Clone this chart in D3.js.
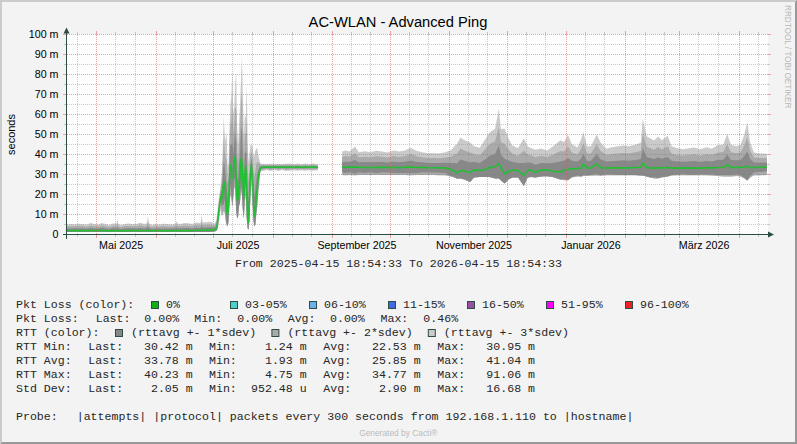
<!DOCTYPE html>
<html><head><meta charset="utf-8">
<script src="https://cdn.jsdelivr.net/npm/d3@7/dist/d3.min.js"></script>
<style>html,body{margin:0;padding:0;background:#F3F3F3;}svg{display:block}</style>
</head><body><svg id="c" width="797" height="444"></svg>
<script>
// ---------------- DATA ----------------
const rangeStart = "2025-04-15T18:54:33";
const rangeEnd = "2026-04-15T18:54:33";

// Spring (low latency ~2 ms)
const springTimes = ["2025-04-15T19:00","2025-04-18T00:00","2025-04-20T00:00","2025-04-22T00:00","2025-04-24T00:00","2025-04-26T00:00","2025-04-28T00:00","2025-04-30T00:00","2025-05-02T00:00","2025-05-04T00:00",
"2025-05-06T00:00","2025-05-08T00:00","2025-05-10T00:00","2025-05-11T12:00","2025-05-12T00:00","2025-05-12T12:00","2025-05-14T00:00","2025-05-16T00:00","2025-05-18T00:00","2025-05-20T00:00",
"2025-05-22T00:00","2025-05-24T00:00","2025-05-26T00:00","2025-05-27T12:00","2025-05-28T00:00","2025-05-28T12:00","2025-05-30T00:00","2025-06-01T00:00","2025-06-03T00:00","2025-06-05T00:00",
"2025-06-07T00:00","2025-06-09T00:00","2025-06-11T12:00","2025-06-12T00:00","2025-06-12T12:00","2025-06-14T00:00","2025-06-16T00:00","2025-06-18T00:00","2025-06-20T00:00","2025-06-22T00:00",
"2025-06-24T12:00","2025-06-25T00:00","2025-06-25T12:00","2025-06-27T00:00","2025-06-29T00:00","2025-06-30T12:00"];
const springAvg = [2.0,1.9,2.1,1.8,2.0,1.9,2.1,1.9,2.0,2.1, 1.9,1.8,2.0,1.9,2.0,1.9,1.8,2.0,1.9,2.1, 1.9,2.0,1.9,2.0,2.2,2.0,1.8,1.9,2.0,1.8, 1.9,2.0,1.9,2.0,1.9,2.0,1.9,2.0,1.9,2.1, 2.1,2.3,2.1,2.2,2.2,2.3];
const springSdev = [1.0,1.1,1.0,1.2,1.1,1.0,1.2,1.1,1.0,1.2, 1.1,1.0,1.2,1.1,1.9,1.1,1.0,1.1,1.2,1.0, 1.1,1.3,1.1,1.2,2.3,1.2,1.0,1.1,1.0,1.2, 1.1,1.0,1.2,1.6,1.2,1.1,1.3,1.2,1.1,1.3, 1.2,2.4,1.3,1.3,1.4,1.3];
const springMin = [1.3,1.3,1.3,1.2,1.3,1.2,1.3,1.2,1.3,1.3, 1.2,1.2,1.2,1.2,1.2,1.2,1.2,1.3,1.2,1.3, 1.2,1.2,1.2,1.2,1.3,1.2,1.2,1.2,1.3,1.2, 1.2,1.2,1.2,1.2,1.2,1.2,1.2,1.2,1.2,1.3, 1.3,1.3,1.3,1.3,1.3,1.4];

// July (unstable period)
const julyTimes = ["2025-07-01T00:00","2025-07-01T12:00","2025-07-02T00:00","2025-07-02T12:00","2025-07-03T00:00","2025-07-03T12:00","2025-07-04T00:00","2025-07-04T12:00","2025-07-05T00:00","2025-07-05T12:00",
"2025-07-06T00:00","2025-07-06T12:00","2025-07-07T00:00","2025-07-07T12:00","2025-07-08T00:00","2025-07-08T12:00","2025-07-09T00:00","2025-07-09T12:00","2025-07-10T00:00","2025-07-10T12:00",
"2025-07-11T00:00","2025-07-11T12:00","2025-07-12T00:00","2025-07-12T12:00","2025-07-13T00:00","2025-07-13T12:00","2025-07-14T00:00","2025-07-14T12:00","2025-07-15T00:00","2025-07-15T12:00",
"2025-07-16T00:00","2025-07-16T12:00","2025-07-17T00:00","2025-07-17T12:00","2025-07-18T00:00","2025-07-18T12:00","2025-07-19T00:00","2025-07-19T12:00","2025-07-20T00:00","2025-07-20T12:00",
"2025-07-21T00:00","2025-07-21T12:00","2025-07-22T00:00","2025-07-22T12:00","2025-07-23T00:00","2025-07-23T12:00","2025-07-24T00:00","2025-07-24T12:00","2025-07-25T00:00","2025-07-25T12:00",
"2025-07-26T00:00"];
const julyAvg = [2.3,2.4,2.6,3.0,4.0,8,12,16,19,18, 22,26,26,20,12,10,14,28,35,33, 28,30,37,39,28,17,18,25,28,38, 36,26,18,30,34,22,9,6,20,30, 35,27,16,9,12,19,23,28,31,33, 33.5];
const julySdev = [1.0,1.0,1.1,1.3,1.7,2.0,2.0,1.7,2.3,4, 7,11,8,9,13,8,7,8,10,12, 18,10,9,12,17.7,12,9,10,12,13, 17.7,14,10,10,8,17.7,12,10,7,5, 3.3,5.7,8,10,10,8,6.7,4,2.3,1.0, 0.6];
const julyMin = [1.5,1.5,1.6,1.8,2.0,3,5,8,10,9, 10,12,11,7,5,4,6,14,20,18, 14,18,24,22,12,8,9,14,16,24, 20,12,8,16,20,8,3,2.5,9,18, 22,14,7,4,5,10,14,20,25,28, 29.8];

// Late summer (flat ~33.7 ms)
const summerTimes = ["2025-07-27T00:00","2025-07-29T00:00","2025-07-31T00:00","2025-08-02T00:00","2025-08-04T00:00","2025-08-06T00:00","2025-08-08T00:00","2025-08-10T00:00","2025-08-12T00:00","2025-08-14T00:00",
"2025-08-16T00:00","2025-08-18T00:00","2025-08-20T00:00","2025-08-22T00:00","2025-08-24T14:00"];
const summerAvg = [33.6,33.7,33.6,33.7,33.6,33.7,33.6,33.7,33.6,33.7, 33.6,33.7,33.6,33.7,33.6];
const summerSdev = [0.6,0.5,0.6,0.5,0.6,0.5,0.6,0.6,0.5,0.6, 0.5,0.6,0.5,0.6,0.5];
const summerMin = [29.7,29.6,29.7,29.6,29.7,29.6,29.7,29.6,29.7,29.6, 29.7,29.6,29.7,29.6,29.7];

// No data between these two instants
const gapTime = "2025-08-30T00:00";

// Autumn / winter / spring 2026
const autumnTimes = ["2025-09-06T06:00","2025-09-08T00:00","2025-09-10T00:00","2025-09-13T00:00","2025-09-15T00:00","2025-09-18T00:00","2025-09-21T00:00","2025-09-24T00:00","2025-09-27T00:00","2025-09-30T00:00",
"2025-10-03T00:00","2025-10-06T00:00","2025-10-09T00:00","2025-10-12T00:00","2025-10-15T00:00","2025-10-18T00:00","2025-10-21T00:00","2025-10-24T00:00","2025-10-27T00:00","2025-10-30T00:00",
"2025-11-02T00:00","2025-11-04T00:00","2025-11-05T00:00","2025-11-07T00:00","2025-11-09T00:00","2025-11-12T00:00","2025-11-14T00:00","2025-11-17T00:00","2025-11-20T00:00","2025-11-22T00:00",
"2025-11-25T00:00","2025-11-27T00:00","2025-11-28T00:00","2025-11-30T00:00","2025-12-02T00:00","2025-12-04T00:00","2025-12-07T00:00","2025-12-10T00:00","2025-12-12T00:00","2025-12-14T00:00",
"2025-12-16T00:00","2025-12-19T00:00","2025-12-22T00:00","2025-12-25T00:00","2025-12-29T00:00","2025-12-31T00:00","2026-01-02T00:00","2026-01-04T00:00","2026-01-07T00:00","2026-01-09T00:00",
"2026-01-10T00:00","2026-01-12T00:00","2026-01-14T00:00","2026-01-17T00:00","2026-01-19T00:00","2026-01-22T00:00","2026-01-25T00:00","2026-01-28T00:00","2026-01-31T00:00","2026-02-03T00:00",
"2026-02-06T00:00","2026-02-09T00:00","2026-02-10T00:00","2026-02-12T00:00","2026-02-14T00:00","2026-02-16T00:00","2026-02-18T00:00","2026-02-20T00:00","2026-02-23T00:00","2026-02-25T00:00",
"2026-02-28T00:00","2026-03-03T00:00","2026-03-06T00:00","2026-03-09T00:00","2026-03-12T00:00","2026-03-15T00:00","2026-03-18T00:00","2026-03-21T00:00","2026-03-24T00:00","2026-03-26T00:00",
"2026-03-28T00:00","2026-03-31T00:00","2026-04-02T00:00","2026-04-04T00:00","2026-04-05T12:00","2026-04-07T00:00","2026-04-09T00:00","2026-04-12T00:00","2026-04-15T18:00"];
const autumnAvg = [33.7,33.6,33.7,33.8,33.6,33.5,33.6,33.5,33.7,33.5, 33.6,33.4,33.6,33.8,33.5,33.6,33.4,33.4,33.3,33.3,
32.5,31.5,30.7,32.0,31.8,31.0,32.4,32.0,32.5,33.5, 34.0,35.4,33.5,30.4,31.5,32.2,32.0,29.5,32.0,32.3,
31.0,32.2,32.4,31.6,31.2,32.3,32.5,32.8,33.0,33.2, 35.2,33.2,33.3,35.3,33.4,33.3,33.4,33.3,33.4,33.3,
33.5,33.6,35.7,33.5,33.3,33.2,33.4,33.3,33.5,33.3, 33.2,33.3,33.2,33.3,33.2,33.4,33.3,33.5,33.6,34.9,
33.5,33.6,33.5,33.8,34.2,33.5,33.5,33.6,33.8];
const autumnSdev = [2.6,2.8,2.6,3.4,2.5,2.7,2.5,2.8,2.6,2.5, 2.8,2.7,2.8,3.2,2.8,2.5,2.4,2.4,2.4,2.6,
3.2,4.3,4.8,5.5,5.1,5.0,3.9,3.8,5.1,5.8, 6.3,9.2,6.4,7.5,5.5,4.1,3.7,6.2,4.0,3.6,
3.8,3.6,3.2,4.1,5.3,4.6,5.8,4.1,3.5,4.9, 5.3,3.6,3.6,4.9,4.2,3.2,3.4,3.6,3.7,3.6,
3.8,4.1,7.4,5.2,4.9,4.6,5.2,4.6,5.3,3.6, 3.3,3.1,3.3,3.4,3.1,3.4,3.2,3.7,3.8,5.1,
3.8,3.5,3.8,5.4,7.3,4.2,2.5,2.3,2.2];
const autumnMin = [29.8,29.6,29.8,29.6,29.8,29.7,29.7,29.7,29.7,29.7, 29.7,29.7,29.7,29.6,29.7,29.7,29.7,29.7,29.6,29.6,
29.0,28.5,28.0,28.0,27.5,26.3,28.5,28.8,28.8,28.8, 28.0,28.0,27.0,25.5,27.5,28.5,28.5,24.3,28.5,28.8,
28.5,29.0,29.0,28.8,27.5,27.1,27.1,28.5,29.0,29.0, 29.3,29.3,29.5,29.5,29.5,29.6,29.6,29.6,29.6,29.6,
29.6,29.5,29.5,29.0,28.5,28.0,28.0,28.5,29.0,29.5, 29.6,29.6,29.6,29.6,29.6,29.6,29.5,29.3,29.0,29.0,
29.0,29.3,29.0,28.0,27.0,28.5,29.6,29.6,29.8];

// Axis tick labels
const yTickValues = [0,10,20,30,40,50,60,70,80,90,100];
const yTickLabels = ["0","10 m","20 m","30 m","40 m","50 m","60 m","70 m","80 m","90 m","100 m"];
const xLabelMonths = ["2025-05-01","2025-07-01","2025-09-01","2025-11-01","2026-01-01","2026-03-01"];
const xLabelTexts = ["Mai 2025","Juli 2025","September 2025","November 2025","Januar 2026","März 2026"];

// Legend content
const lossLabels = ["0%","03-05%","06-10%","11-15%","16-50%","51-95%","96-100%"];
const lossColors = ["#12AF12","#4CCFCB","#6DB1EA","#3E6AE3","#9A4EA2","#FF00FF","#EE2027"];
const bandLabels = ["(rttavg +- 1*sdev)","(rttavg +- 2*sdev)","(rttavg +- 3*sdev)"];
const bandColors = ["#888888","#AAAAAA","#CACACA"];
const pktLossStats = ["0.00%","0.00%","0.00%","0.46%"];
const statNames = ["RTT Min:","RTT Avg:","RTT Max:","Std Dev:"];
const statLast = ["30.42 m","33.78 m","40.23 m","2.05 m"];
const statMin = ["1.24 m","1.93 m","4.75 m","952.48 u"];
const statAvg = ["22.53 m","25.85 m","34.77 m","2.90 m"];
const statMax = ["30.95 m","41.04 m","91.06 m","16.68 m"];

// ---------------- DRAWING ----------------
const W = 797, H = 444;
const X0 = 67, X1 = 767, Y0 = 234.5, Y1 = 34.5;
const AXIS = "#2C4D43";
const SANS = "'Liberation Sans', Arial, sans-serif";
const MONO = "'Liberation Mono', 'Courier New', monospace";
const TXT = "#262626";
const pt = s => new Date((s.length === 10 ? s + "T00:00:00" : (s.length === 16 ? s + ":00" : s)) + "Z");

const x = d3.scaleUtc().domain([pt(rangeStart), pt(rangeEnd)]).range([X0, X1]);
const y = d3.scaleLinear().domain([0, 100]).range([Y0, Y1]);

function build(times, avg, sd, mn) {
  return times.map((t, i) => ({ t: pt(t), avg: avg[i], sd: sd[i], mn: mn[i] }));
}
const data = [].concat(
  build(springTimes, springAvg, springSdev, springMin),
  build(julyTimes, julyAvg, julySdev, julyMin),
  build(summerTimes, summerAvg, summerSdev, summerMin),
  [{ t: pt(gapTime), avg: null, sd: null, mn: null }],
  build(autumnTimes, autumnAvg, autumnSdev, autumnMin)
);

const svg = d3.select("#c");
svg.append("rect").attr("width", W).attr("height", H).attr("fill", "#F3F3F3");
// frame shading
svg.append("polygon").attr("points", `0,0 ${W},0 ${W-2},2 2,2 2,${H-2} 0,${H}`).attr("fill", "#CBCBCB");
svg.append("polygon").attr("points", `2,${H-2} ${W-2},${H-2} ${W-2},2 ${W},0 ${W},${H} 0,${H}`).attr("fill", "#999999");

// canvas
svg.append("rect").attr("x", X0).attr("y", Y1 - 0.5).attr("width", X1 - X0 + 1).attr("height", Y0 - Y1 + 0.5).attr("fill", "#FDFDFD");

// bands
const gPlot = svg.append("g");
[3, 2, 1].forEach(k => {
  const area = d3.area()
    .defined(d => d.avg != null)
    .x(d => x(d.t))
    .y0(d => y(Math.max(d.mn, d.avg - k * d.sd)))
    .y1(d => y(d.avg + k * d.sd));
  gPlot.append("path").datum(data).attr("d", area).attr("fill", bandColors[k - 1]);
});
const line = d3.line().defined(d => d.avg != null).x(d => x(d.t)).y(d => y(d.avg));
gPlot.append("path").datum(data).attr("d", line).attr("fill", "none")
  .attr("stroke", "#22BE33").attr("stroke-width", 1.6).attr("stroke-linejoin", "round");

// grid (on top, like rrdtool)
const gGrid = svg.append("g").attr("shape-rendering", "crispEdges");
const MINOR = "rgba(143,143,143,0.45)", MAJOR = "rgba(222,79,79,0.5)";
const months = d3.utcMonth.range(d3.utcMonth.ceil(x.domain()[0]), x.domain()[1]);
const minorDays = [];
months.forEach(m => { minorDays.push(d3.utcDay.offset(m, 10), d3.utcDay.offset(m, 20)); });
minorDays.push(d3.utcDay.offset(d3.utcMonth.floor(x.domain()[0]), 20));
const vx = d => Math.round(x(d)) + 0.5;
minorDays.filter(d => d > x.domain()[0] && d < x.domain()[1]).forEach(d => {
  const xx = vx(d);
  gGrid.append("line").attr("x1", xx).attr("x2", xx).attr("y1", Y1).attr("y2", Y0)
    .attr("stroke", MINOR).attr("stroke-dasharray", "1,1");
  gGrid.append("line").attr("x1", xx).attr("x2", xx).attr("y1", Y0).attr("y2", Y0 + 2.5).attr("stroke", MINOR);
  gGrid.append("line").attr("x1", xx).attr("x2", xx).attr("y1", Y1 - 2.5).attr("y2", Y1).attr("stroke", MINOR);
});
months.forEach(d => {
  const xx = vx(d);
  gGrid.append("line").attr("x1", xx).attr("x2", xx).attr("y1", Y1).attr("y2", Y0)
    .attr("stroke", MAJOR).attr("stroke-dasharray", "1,1");
  gGrid.append("line").attr("x1", xx).attr("x2", xx).attr("y1", Y0).attr("y2", Y0 + 3.5).attr("stroke", MAJOR);
  gGrid.append("line").attr("x1", xx).attr("x2", xx).attr("y1", Y1 - 3.5).attr("y2", Y1).attr("stroke", MAJOR);
});
for (let v = 5; v < 100; v += 10) {
  const yy = y(v);
  gGrid.append("line").attr("x1", X0).attr("x2", X1 + 1).attr("y1", yy).attr("y2", yy)
    .attr("stroke", MINOR).attr("stroke-dasharray", "1,1");
  gGrid.append("line").attr("x1", X0 - 3).attr("x2", X0).attr("y1", yy).attr("y2", yy).attr("stroke", MINOR);
  gGrid.append("line").attr("x1", X1 + 1).attr("x2", X1 + 3).attr("y1", yy).attr("y2", yy).attr("stroke", MINOR);
}
yTickValues.forEach(v => {
  const yy = y(v);
  if (v > 0) gGrid.append("line").attr("x1", X0).attr("x2", X1 + 1).attr("y1", yy).attr("y2", yy)
    .attr("stroke", MAJOR).attr("stroke-dasharray", "1,1");
  gGrid.append("line").attr("x1", X0 - 4).attr("x2", X0).attr("y1", yy).attr("y2", yy).attr("stroke", MAJOR);
  gGrid.append("line").attr("x1", X1 + 1).attr("x2", X1 + 4).attr("y1", yy).attr("y2", yy).attr("stroke", MAJOR);
});

// axes
const gAxis = svg.append("g");
gAxis.append("line").attr("x1", X0 - 4).attr("x2", X1 + 4).attr("y1", Y0).attr("y2", Y0)
  .attr("stroke", AXIS).attr("shape-rendering", "crispEdges");
gAxis.append("line").attr("x1", X0 - 0.5).attr("x2", X0 - 0.5).attr("y1", Y0 + 4).attr("y2", Y1 - 4)
  .attr("stroke", AXIS).attr("shape-rendering", "crispEdges");
gAxis.append("polygon").attr("points", `${X1 + 1},${Y0 - 3} ${X1 + 1},${Y0 + 3} ${X1 + 7},${Y0}`).attr("fill", AXIS);
gAxis.append("polygon").attr("points", `${X0 - 3.5},${Y1 - 1} ${X0 + 2.5},${Y1 - 1} ${X0 - 0.5},${Y1 - 7}`).attr("fill", AXIS);

// y tick labels
svg.append("g").selectAll("text").data(yTickValues).join("text")
  .attr("x", 58.5).attr("y", v => y(v) + 3.8).attr("text-anchor", "end")
  .attr("font-family", SANS).attr("font-size", 10.7).attr("fill", "#000")
  .text((v, i) => yTickLabels[i]);

// x labels (rrdtool places them half-way into the labelled period)
svg.append("g").selectAll("text").data(xLabelMonths).join("text")
  .attr("x", d => x(d3.utcDay.offset(pt(d), 13)))
  .attr("y", 249).attr("text-anchor", "middle")
  .attr("font-family", SANS).attr("font-size", 10.7).attr("fill", "#000")
  .text((d, i) => xLabelTexts[i]);

// title
svg.append("text").attr("x", 398).attr("y", 27).attr("text-anchor", "middle")
  .attr("font-family", SANS).attr("font-size", 14.7).attr("fill", "#000")
  .text("AC-WLAN - Advanced Ping");

// y axis title
svg.append("text").attr("transform", "translate(15,134.5) rotate(-90)").attr("text-anchor", "middle")
  .attr("font-family", SANS).attr("font-size", 11).attr("fill", "#000").text("seconds");

// watermark
svg.append("text").attr("transform", "translate(784.5,5) rotate(90)")
  .attr("font-family", SANS).attr("font-size", 8.2).attr("fill", "#B8B8B8")
  .text("RRDTOOL / TOBI OETIKER");

// from / to line
svg.append("text").attr("x", 398.5).attr("y", 267).attr("text-anchor", "middle")
  .attr("font-family", MONO).attr("font-size", 11.6).attr("fill", TXT)
  .style("white-space", "pre")
  .text("From 2025-04-15 18:54:33 To 2026-04-15 18:54:33");

// legend
const gLeg = svg.append("g").attr("font-family", MONO).attr("font-size", 11.6).attr("fill", TXT);
const rowY = i => 307.5 + 14 * i;
function t(xp, yp, s, anchor) {
  gLeg.append("text").attr("x", xp).attr("y", yp).attr("text-anchor", anchor || "start")
    .style("white-space", "pre").text(s);
}
function box(xp, yp, color) {
  gLeg.append("rect").attr("x", xp + 0.5).attr("y", yp + 0.5).attr("width", 7).attr("height", 7)
    .attr("fill", color).attr("stroke", AXIS).attr("stroke-width", 1);
}
// row 0: loss colours
t(16, rowY(0), "Pkt Loss (color):");
lossLabels.forEach((l, i) => {
  const bx = 151 + 79 * i;
  box(bx, 301, lossColors[i]);
  t(bx + 15, rowY(0), l);
});
// row 1: pkt loss stats
t(16, rowY(1), "Pkt Loss:");
[[95.7, "Last:"], [194.3, "Min:"], [287.7, "Avg:"], [380.5, "Max:"]].forEach(([xp, s]) => t(xp, rowY(1), s));
[144.3, 237.3, 330, 423.3].forEach((xp, i) => t(xp, rowY(1), pktLossStats[i]));
// row 2: rtt colours
t(16, rowY(2), "RTT (color):");
bandLabels.forEach((l, i) => {
  const bx = 115 + 156.4 * i;
  box(bx, 329, bandColors[i]);
  t(bx + 16, rowY(2), l);
});
// rows 3-6: stats
statNames.forEach((n, i) => {
  const yy = rowY(3 + i);
  t(16, yy, n);
  t(88.3, yy, "Last:"); t(192.7, yy, statLast[i], "end");
  t(209, yy, "Min:"); t(306.7, yy, statMin[i], "end");
  t(323.3, yy, "Avg:"); t(420.7, yy, statAvg[i], "end");
  t(437.3, yy, "Max:"); t(535, yy, statMax[i], "end");
});
// probe row
t(16, rowY(8), "Probe:");
t(76.7, rowY(8), "|attempts|");
t(153.3, rowY(8), "|protocol| packets every 300 seconds from 192.168.1.110 to |hostname|");

// footer
svg.append("text").attr("x", 398.3).attr("y", 436).attr("text-anchor", "middle")
  .attr("font-family", SANS).attr("font-size", 8.4).attr("fill", "#BBBBBB")
  .text("Generated by Cacti®");
</script>
</body></html>
